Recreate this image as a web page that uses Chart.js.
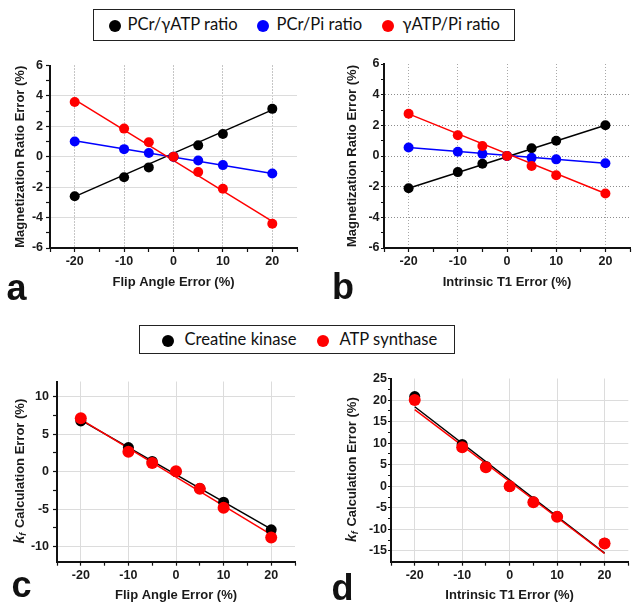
<!DOCTYPE html>
<html>
<head>
<meta charset="utf-8">
<script src="https://cdn.jsdelivr.net/npm/chart.js@4.4.1/dist/chart.umd.min.js"></script>
<style>
  body { margin: 0; width: 642px; height: 615px; position: relative; background: #fff; overflow: hidden; }
  canvas { position: absolute; }
  .legend { position: absolute; box-sizing: border-box; border: 1.5px solid #222; background: #fff; }
  .dot { position: absolute; top: 50%; width: 12px; height: 12px; margin-top: -5px; border-radius: 50%; }
  .lbl { position: absolute; top: 0; font-family: Lato, "Open Sans", sans-serif; font-size: 16.6px; color: #111; white-space: nowrap; }
  .letter { position: absolute; font-family: "Liberation Sans", Arial, sans-serif; font-weight: bold; font-size: 36px; line-height: 36px; color: #111; }
</style>
</head>
<body>

<div class="legend" style="left:93px;top:9px;width:422px;height:32px">
  <span class="dot" style="left:14.5px;background:#000"></span><span class="lbl" style="left:33.5px;line-height:29px">PCr/γATP ratio</span>
  <span class="dot" style="left:162.5px;background:#0000ff"></span><span class="lbl" style="left:182.5px;line-height:29px">PCr/Pi ratio</span>
  <span class="dot" style="left:287.5px;background:#ff0000"></span><span class="lbl" style="left:308.5px;line-height:29px">γATP/Pi ratio</span>
</div>

<div class="legend" style="left:139px;top:325px;width:316px;height:29px">
  <span class="dot" style="left:21.5px;background:#000"></span><span class="lbl" style="left:44.5px;line-height:26px">Creatine kinase</span>
  <span class="dot" style="left:176.5px;background:#ff0000"></span><span class="lbl" style="left:199.5px;line-height:26px">ATP synthase</span>
</div>

<canvas id="chartA" width="310" height="245" style="left:0;top:55px"></canvas>
<canvas id="chartB" width="305" height="245" style="left:330px;top:55px"></canvas>
<canvas id="chartC" width="305" height="245" style="left:0;top:370px"></canvas>
<canvas id="chartD" width="305" height="245" style="left:330px;top:370px"></canvas>

<div class="letter" style="left:6.5px;top:269.5px">a</div>
<div class="letter" style="left:332px;top:268.5px">b</div>
<div class="letter" style="left:11.5px;top:566.5px">c</div>
<div class="letter" style="left:331.5px;top:569.5px">d</div>

<script>
// Simulated error levels (%) and fit-line end points
const errLevels = [-20, -10, -5, 0, 5, 10, 20];
const fitX = [-20, 20];

// Tick positions
const xMajor = [-20, -10, 0, 10, 20];
const xMinor = [-25, -15, -5, 5, 15, 25];
const ratioYMajor = [-6, -4, -2, 0, 2, 4, 6];
const ratioYMinor = [-5, -3, -1, 1, 3, 5];
const kfYMajorC = [-10, -5, 0, 5, 10];
const kfYMinorC = [-7.5, -2.5, 2.5, 7.5];
const kfYMajorD = [-15, -10, -5, 0, 5, 10, 15, 20, 25];
const kfYMinorD = [-12.5, -7.5, -2.5, 2.5, 7.5, 12.5, 17.5, 22.5];

// Panel a: flip angle error -> magnetization ratio error
const aPcrAtp = [-2.6, -1.35, -0.7, 0, 0.75, 1.5, 3.15];
const aPcrPi = [1.0, 0.5, 0.25, 0, -0.25, -0.55, -1.1];
const aAtpPi = [3.6, 1.85, 0.95, 0, -1.0, -2.1, -4.4];
const aPcrAtpFit = [-2.62, 3.08];
const aPcrPiFit = [1.05, -1.1];
const aAtpPiFit = [3.75, -4.25];

// Panel b: intrinsic T1 error -> magnetization ratio error
const bPcrAtp = [-2.1, -1.05, -0.5, 0, 0.5, 1.0, 2.0];
const bPcrPi = [0.55, 0.28, 0.14, 0, -0.12, -0.22, -0.47];
const bAtpPi = [2.75, 1.35, 0.65, 0, -0.65, -1.25, -2.45];
const bPcrAtpFit = [-2.1, 2.0];
const bPcrPiFit = [0.55, -0.47];
const bAtpPiFit = [2.75, -2.45];

// Panel c: flip angle error -> kf calculation error
const cCK = [6.75, 3.2, 1.35, 0, -2.25, -4.07, -7.75];
const cAS = [7.1, 2.65, 1.13, 0.05, -2.3, -4.8, -8.78];
const cCKFit = [6.85, -7.65];
const cASFit = [6.95, -8.4];

// Panel d: intrinsic T1 error -> kf calculation error
const dCK = [20.8, 9.7, 4.6, 0, -3.6, -7.0, -13.2];
const dAS = [20.0, 9.05, 4.4, 0, -3.7, -7.1, -13.3];
const dCKFit = [18.45, -15.5];
const dASFit = [17.8, -15.6];

const BLACK = '#000000';
const BLUE = '#0000ff';
const RED = '#ff0000';

function pts(xs, ys) {
  return xs.map((x, i) => ({ x: x, y: ys[i] }));
}

function pointSet(ys, color, r) {
  return {
    data: pts(errLevels, ys),
    backgroundColor: color,
    borderColor: color,
    pointRadius: r,
    pointBorderWidth: 0,
    showLine: false
  };
}

function fitSet(ys, color) {
  return {
    data: pts(fitX, ys),
    borderColor: color,
    borderWidth: 1.5,
    pointRadius: 0,
    showLine: true,
    fill: false
  };
}

function tickList(major, minor) {
  return major.concat(minor).sort((a, b) => a - b).map(v => ({ value: v }));
}

function makeAxis(o) {
  return {
    type: 'linear',
    min: o.min,
    max: o.max,
    afterBuildTicks: s => { s.ticks = tickList(o.major, o.minor); },
    afterFit: s => {
      if (o.vertical) s.width = o.size;
      else s.height = o.size;
    },
    ticks: {
      autoSkip: false,
      maxRotation: 0,
      padding: o.pad,
      color: '#1a1a1a',
      font: { family: 'Liberation Sans', size: 12.5, weight: 'bold' },
      callback: v => o.major.includes(v) ? String(v) : ''
    },
    grid: {
      color: c => {
        const v = c.tick ? c.tick.value : null;
        if (!o.major.includes(v) || v === o.min || v === o.max) return 'rgba(0,0,0,0)';
        return o.gridColor;
      },
      lineWidth: 1,
      tickLength: o.tl,
      tickColor: '#111',
      tickWidth: 1.2
    },
    border: { display: true, color: '#111', width: 2, dash: o.dash || [] },
    title: o.title ? {
      display: true,
      text: o.title,
      color: '#1a1a1a',
      font: { family: 'Liberation Sans', size: 13, weight: 'bold' },
      padding: o.titlePad
    } : { display: false }
  };
}

// y title with italic k and subscript f (panels c and d)
const kfTitle = {
  id: 'kfTitle',
  afterDraw(chart, args, opts) {
    if (!opts.x) return;
    const ctx = chart.ctx;
    const area = chart.chartArea;
    const rest = ' Calculation Error (%)';
    const kFont = 'italic bold 14px "Liberation Sans"';
    const sFont = 'italic bold 9px "Liberation Sans"';
    const rFont = 'bold 13px "Liberation Sans"';
    ctx.save();
    ctx.translate(opts.x, (area.top + area.bottom) / 2);
    ctx.rotate(-Math.PI / 2);
    ctx.fillStyle = '#1a1a1a';
    ctx.textBaseline = 'middle';
    ctx.font = kFont; const wk = ctx.measureText('k').width;
    ctx.font = sFont; const wf = ctx.measureText('f').width;
    ctx.font = rFont; const wr = ctx.measureText(rest).width;
    let x = -(wk + wf + wr) / 2;
    ctx.font = kFont; ctx.fillText('k', x, 0); x += wk;
    ctx.font = sFont; ctx.fillText('f', x, 4); x += wf + 1;
    ctx.font = rFont; ctx.fillText(rest, x, 0);
    ctx.restore();
  }
};

function makeChart(id, datasets, xAxis, yAxis, padding, kfX) {
  return new Chart(document.getElementById(id), {
    type: 'scatter',
    data: { datasets: datasets },
    options: {
      responsive: false,
      animation: false,
      devicePixelRatio: 1,
      layout: { padding: padding },
      plugins: {
        legend: { display: false },
        tooltip: { enabled: false },
        kfTitle: { x: kfX || 0 }
      },
      scales: { x: xAxis, y: yAxis }
    },
    plugins: [kfTitle]
  });
}

// Panel a
makeChart('chartA', [
  pointSet(aAtpPi, RED, 5),
  pointSet(aPcrPi, BLUE, 5),
  pointSet(aPcrAtp, BLACK, 5),
  fitSet(aAtpPiFit, RED),
  fitSet(aPcrPiFit, BLUE),
  fitSet(aPcrAtpFit, BLACK)
],
  makeAxis({ min: -25, max: 25, major: xMajor, minor: xMinor, size: 52, tl: 4, pad: 2,
    gridColor: '#8c8c8c', dash: [1, 2], title: 'Flip Angle Error (%)', titlePad: { top: 2, bottom: 9.8 } }),
  makeAxis({ vertical: true, min: -6, max: 6, major: ratioYMajor, minor: ratioYMinor, size: 50, tl: 4, pad: 3,
    gridColor: '#dcdcdc', title: 'Magnetization Ratio Error (%)', titlePad: { top: 12.8, bottom: 2 } }),
  { top: 9, right: 13, left: 0, bottom: 0 });

// Panel b
makeChart('chartB', [
  pointSet(bAtpPi, RED, 5),
  pointSet(bPcrPi, BLUE, 5),
  pointSet(bPcrAtp, BLACK, 5),
  fitSet(bAtpPiFit, RED),
  fitSet(bPcrPiFit, BLUE),
  fitSet(bPcrAtpFit, BLACK)
],
  makeAxis({ min: -25, max: 25, major: xMajor, minor: xMinor, size: 52, tl: 4, pad: 2,
    gridColor: '#a8a8a8', dash: [1, 2], title: 'Intrinsic T1 Error (%)', titlePad: { top: 2, bottom: 9.8 } }),
  makeAxis({ vertical: true, min: -6, max: 6, major: ratioYMajor, minor: ratioYMinor, size: 54, tl: 3, pad: 1.5,
    gridColor: '#8c8c8c', dash: [1, 2], title: 'Magnetization Ratio Error (%)', titlePad: { top: 14.8, bottom: 2 } }),
  { top: 9, right: 5, left: 0, bottom: 0 });

// Panel c
makeChart('chartC', [
  pointSet(cAS, RED, 6),
  pointSet(cCK, BLACK, 5.5),
  fitSet(cASFit, RED),
  fitSet(cCKFit, BLACK)
],
  makeAxis({ min: -25, max: 25, major: xMajor, minor: xMinor, size: 53.3, tl: 4, pad: 2,
    gridColor: '#dcdcdc', title: 'Flip Angle Error (%)', titlePad: { top: 2, bottom: 11.8 } }),
  makeAxis({ vertical: true, min: -12, max: 12, major: kfYMajorC, minor: kfYMinorC, size: 57, tl: 4, pad: 4,
    gridColor: '#dcdcdc' }),
  { top: 8.3, right: 10, left: 0, bottom: 0 }, 20);

// Panel d
makeChart('chartD', [
  pointSet(dAS, RED, 6),
  pointSet(dCK, BLACK, 5.5),
  fitSet(dASFit, RED),
  fitSet(dCKFit, BLACK)
],
  makeAxis({ min: -25, max: 25, major: xMajor, minor: xMinor, size: 53.3, tl: 4, pad: 2,
    gridColor: '#dcdcdc', title: 'Intrinsic T1 Error (%)', titlePad: { top: 2, bottom: 11.8 } }),
  makeAxis({ vertical: true, min: -17.5, max: 25, major: kfYMajorD, minor: kfYMinorD, size: 61, tl: 3, pad: 1,
    gridColor: '#dcdcdc' }),
  { top: 7.7, right: 6.7, left: 0, bottom: 0 }, 22);
</script>
</body>
</html>
